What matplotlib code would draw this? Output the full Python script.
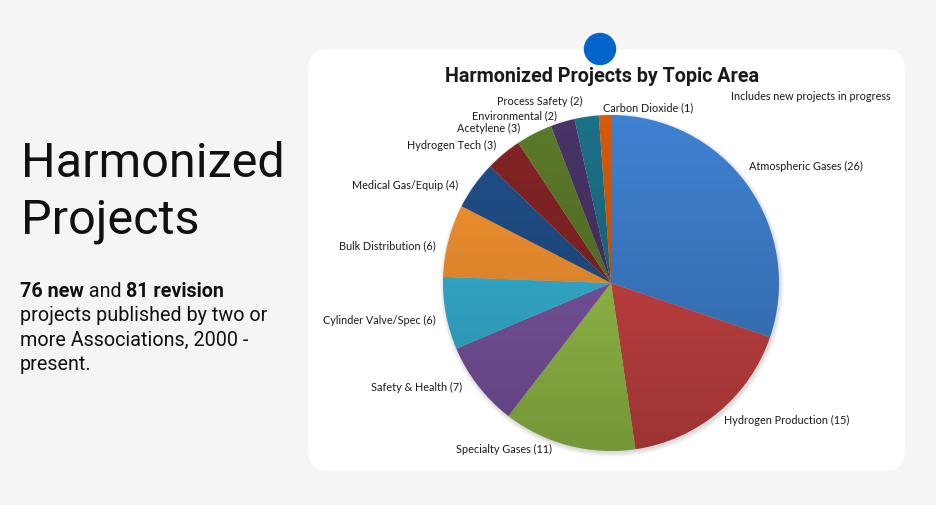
import matplotlib.pyplot as plt
from matplotlib.patches import Circle, FancyBboxPatch
import numpy as np

# data
topics = ['Atmospheric Gases', 'Hydrogen Production', 'Specialty Gases', 'Safety & Health',
          'Cylinder Valve/Spec', 'Bulk Distribution', 'Medical Gas/Equip', 'Hydrogen Tech',
          'Acetylene', 'Environmental', 'Process Safety', 'Carbon Dioxide']
projects = [26, 15, 11, 7, 6, 6, 4, 3, 3, 2, 2, 1]

colors = ['#3f82d2', '#d04545', '#9cc84c', '#8058a8', '#38b8dc', '#fa9632',
          '#21508a', '#852525', '#5c7a2a', '#4a3468', '#1c7088', '#d85a0a']

# where excel put each data label (pixel coords, text centre)
label_pos = [(806, 166), (787, 420), (504, 449), (417, 387), (379, 320), (387, 246),
             (405, 185), (452, 145), (489, 128), (515, 116), (540, 101), (648, 108)]

W, H = 936, 506
fig = plt.figure(figsize=(W / 100, H / 100), dpi=100)
fig.patch.set_facecolor('#f5f5f5')
ax = fig.add_axes([0, 0, 1, 1])

# white card + blue dot
card = FancyBboxPatch((308, 50), 597, 422, boxstyle='round,pad=0,rounding_size=20',
                      fc='white', ec='none', zorder=0)
ax.add_patch(card)
ax.add_patch(Circle((600, 50), 15.5, color='#0066cc', zorder=5))

# pie
cx, cy, r = 611, 284, 168
for i in range(6):
    ax.add_patch(Circle((cx + 1, cy + 2), r + i * 0.8, color='k', alpha=0.025, zorder=0.5, lw=0))

wedges, _ = ax.pie(projects, colors=colors, startangle=-90, counterclock=True,
                   center=(cx, cy), radius=r, wedgeprops=dict(linewidth=0))
for w in wedges:
    w.set_zorder(1)

# top-to-bottom darkening like the excel gradient fill
grad = np.zeros((256, 1, 4))
grad[..., 3] = np.linspace(0, 0.25, 256)[:, None]
shade = ax.imshow(grad, extent=(cx - r, cx + r, cy + r, cy - r), interpolation='bilinear',
                  aspect='auto', zorder=1.5)
shade.set_clip_path(Circle((cx, cy), r, transform=ax.transData))

for name, n, (x, y) in zip(topics, projects, label_pos):
    ax.text(x, y, f'{name} ({n})', ha='center', va='center', fontsize=7.8,
            family='Lato', color='#1a1a1a')

ax.text(811, 96, 'Includes new projects in progress', ha='center', va='center',
        fontsize=7.8, family='Lato', color='#1a1a1a')
ax.text(602, 82, 'Harmonized Projects by Topic Area', ha='center', va='baseline',
        fontsize=14.2, fontweight='bold', family='Roboto', color='#1a1a1a')

# left side text
ax.text(21, 177, 'Harmonized', fontsize=35, family='Roboto', va='baseline', color='#111111')
ax.text(21, 233, 'Projects', fontsize=35, family='Roboto', va='baseline', color='#111111')

body = dict(fontsize=14.2, family='Roboto', color='#111111')
t1 = ax.text(20, 297, '76 new', fontweight='bold', va='baseline', **body)
t2 = ax.annotate(' and ', xy=(1, 0), xycoords=t1, va='bottom', **body)
ax.annotate('81 revision', xy=(1, 0), xycoords=t2, va='bottom', fontweight='bold', **body)
ax.text(20, 321, 'projects published by two or', va='baseline', **body)
ax.text(20, 346, 'more Associations, 2000 -', va='baseline', **body)
ax.text(20, 370, 'present.', va='baseline', **body)

ax.set_xlim(0, W)
ax.set_ylim(H, 0)
ax.axis('off')
fig.savefig('out.png', dpi=100, facecolor=fig.get_facecolor())
